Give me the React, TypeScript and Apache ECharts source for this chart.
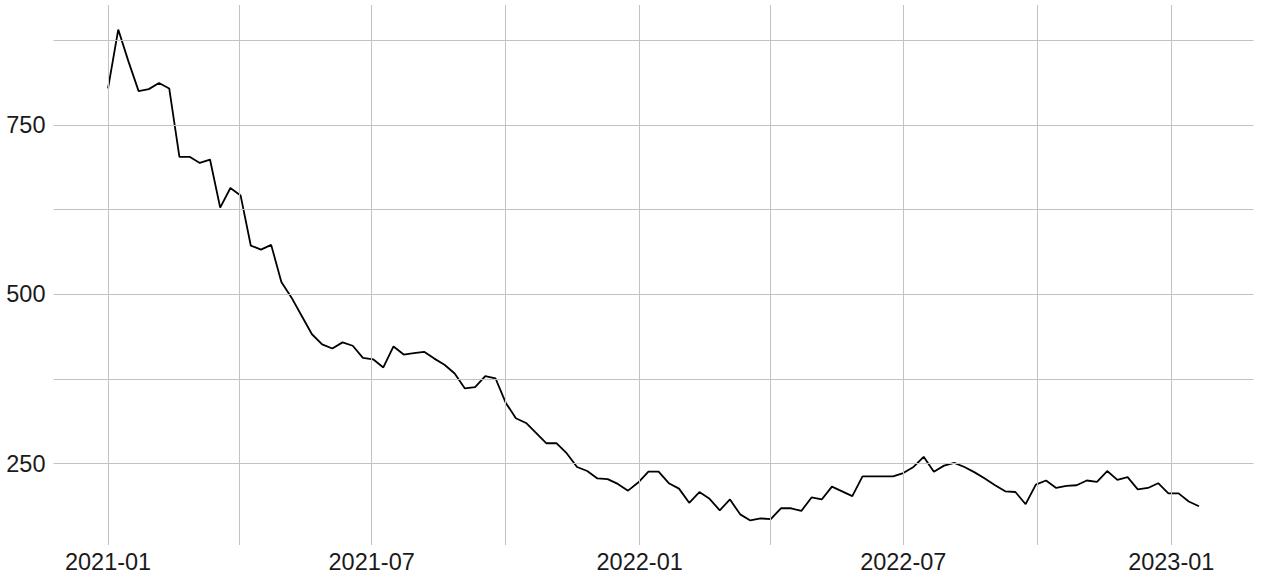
import React, { useEffect, useRef } from "react";
import * as echarts from "echarts";

// Weekly series starting 2021-01-01
const START_DATE = "2021-01-01";
const WEEK_MS = 7 * 86400000;
const values: number[] = [
  804, 891, 844, 800, 803, 812, 804, 703, 703, 694,
  699, 628, 657, 646, 572, 566, 573, 518, 495, 468,
  441, 426, 420, 429, 424, 406, 404, 392, 423, 411,
  413, 415, 405, 396, 383, 361, 363, 379, 376, 340,
  317, 310, 295, 280, 280, 265, 245, 239, 228, 227,
  220, 210, 222, 238, 238, 221, 213, 192, 208, 198,
  181, 197, 175, 166, 169, 168, 184, 184, 180, 200,
  197, 216, 209, 202, 231, 231, 231, 231, 236, 245,
  260, 238, 247, 251, 245, 237, 228, 218, 209, 208,
  190, 219, 225, 214, 217, 218, 225, 223, 239, 226,
  230, 212, 214, 221, 206, 206, 194, 187,
];

const yTickLabels: number[] = [250, 500, 750];
const yGridLines: number[] = [375, 500, 625, 750, 875, 250];
const xTickLabels: string[] = ["2021-01-01", "2021-07-01", "2022-01-01", "2022-07-01", "2023-01-01"];
const xGridLines: string[] = [
  "2021-01-01", "2021-04-01", "2021-07-01", "2021-10-01",
  "2022-01-01", "2022-04-01", "2022-07-01", "2022-10-01", "2023-01-01",
];

const toTs = (s: string) => {
  const [y, m, d] = s.split("-").map(Number);
  return Date.UTC(y, m - 1, d);
};

const fmtYM = (v: number) => {
  const d = new Date(v);
  const m = d.getUTCMonth() + 1;
  return `${d.getUTCFullYear()}-${m < 10 ? "0" + m : m}`;
};

export default function App() {
  const ref = useRef<HTMLDivElement>(null);

  useEffect(() => {
    if (!ref.current) return;
    const chart = echarts.init(ref.current, undefined, { renderer: "svg" });

    const start = toTs(START_DATE);
    const data = values.map((v, i) => [start + i * WEEK_MS, v]);
    const xMinData = data[0][0];
    const xMaxData = data[data.length - 1][0];
    const xPad = (xMaxData - xMinData) * 0.05;
    const yMinData = Math.min(...values);
    const yMaxData = Math.max(...values);
    const yPad = (yMaxData - yMinData) * 0.05;

    const gridColor = "#c2c2c2";
    const textStyle = {
      fontFamily: "'Liberation Sans', Arial, sans-serif",
      fontSize: 23.5,
      color: "#1a1a1a",
    };

    chart.setOption({
      animation: false,
      grid: {
        left: 53.5,
        right: 8.5,
        top: 5,
        bottom: 37,
        containLabel: false,
        outerBoundsMode: "none",
      },
      xAxis: {
        type: "value",
        min: xMinData - xPad,
        max: xMaxData + xPad,
        axisLine: { show: false },
        axisTick: { show: false },
        splitLine: { show: false },
        axisLabel: {
          ...textStyle,
          margin: 5,
          customValues: xTickLabels.map(toTs),
          formatter: (v: number) => fmtYM(v),
          hideOverlap: false,
        },
      },
      yAxis: {
        type: "value",
        min: yMinData - yPad,
        max: yMaxData + yPad,
        axisLine: { show: false },
        axisTick: { show: false },
        splitLine: { show: false },
        axisLabel: {
          ...textStyle,
          margin: 8,
          customValues: yTickLabels,
          formatter: (v: number) => String(v),
        },
      },
      series: [
        {
          type: "line",
          z: 1,
          data,
          showSymbol: false,
          silent: true,
          lineStyle: { width: 0, opacity: 0 },
          markLine: {
            silent: true,
            symbol: ["none", "none"],
            label: { show: false },
            emphasis: { disabled: true },
            animation: false,
            lineStyle: { type: "solid", color: gridColor, width: 1 },
            data: [
              ...yGridLines.map((v) => ({ yAxis: v })),
              ...xGridLines.map((s) => ({ xAxis: toTs(s) })),
            ],
          },
        },
        {
          type: "line",
          z: 3,
          data,
          showSymbol: false,
          silent: true,
          lineStyle: { color: "#000000", width: 1.8 },
          itemStyle: { color: "#000000" },
        },
      ],
    });

    return () => chart.dispose();
  }, []);

  return (
    <div
      ref={ref}
      style={{ position: "fixed", left: 0, top: 0, width: 1262, height: 582, background: "#ffffff" }}
    />
  );
}
